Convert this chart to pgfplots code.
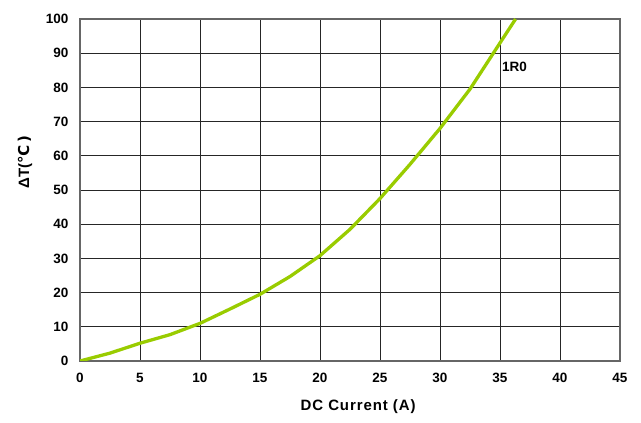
\documentclass[border=0pt]{standalone}
\usepackage{fontspec}
\setmainfont{Liberation Sans}
\newfontfamily\dejavu{DejaVu Sans}
\usepackage{pgfplots}
\pgfplotsset{compat=1.18}
\definecolor{curvegreen}{HTML}{99CC00}
\begin{document}
\begin{tikzpicture}[x=1pt,y=1pt]
\path[use as bounding box] (0,0) rectangle (641,423);
\begin{axis}[
  at={(80pt,62pt)}, anchor=south west,
  scale only axis, width=540pt, height=342pt,
  xmin=0, xmax=45, ymin=0, ymax=100,
  xtick={0,5,...,45}, ytick={0,10,...,100},
  grid=major,
  major grid style={draw=black!85, line width=0.7pt},
  axis line style={draw=black!60, line width=1.3pt},
  major tick length=0pt,
  /pgf/number format/assume math mode=true,
  tick label style={font=\fontsize{13.5}{15}\selectfont\bfseries},
  xticklabel style={yshift=-9pt},
  yticklabel style={xshift=-8pt},
  xlabel={DC Current (A)},
  xlabel style={font=\fontsize{15}{17}\addfontfeatures{LetterSpace=6}\bfseries, at={(axis description cs:0.515,-0.1345)}, anchor=center},
  ylabel={$\mathrm{}$\bfseries ΔT(\dejavu\bfseries ℃\,)},
  ylabel style={font=\fontsize{15}{17}\selectfont\bfseries, at={(axis description cs:-0.102,0.582)}, anchor=center, rotate=0},
  clip=true,
]
\addplot[color=curvegreen, line width=3.3pt, line join=round] coordinates {
(0,0) (2.5,2.3) (5,5.2) (7.5,7.7) (10,11) (12.5,15.2) (15,19.5) (17.5,24.7)
(20,30.8) (22.5,38.5) (25,47.5) (27.5,57.5) (30,68) (32.5,79.5) (35,93) (36.3,100)
};
\node[font=\fontsize{13.5}{15}\selectfont\bfseries] at (axis cs:36.2,86) {1R0};
\end{axis}
\end{tikzpicture}
\end{document}
